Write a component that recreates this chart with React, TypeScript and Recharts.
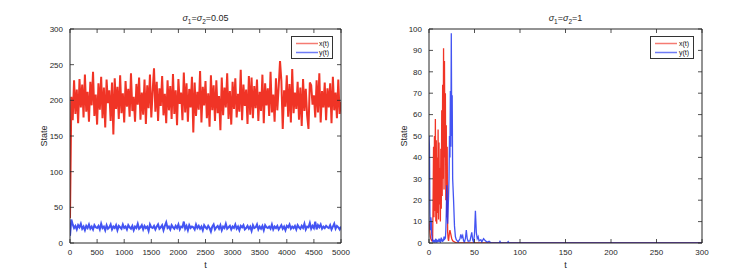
import React from "react";
import { LineChart, Line, XAxis, YAxis, Legend, ReferenceLine } from "recharts";

// ---------- Left panel: sigma1 = sigma2 = 0.05, t from 0 to 5000, sampled every 25 ----------
const leftStep = 25;
const xLeft: number[] = [35,
  205,172,228,181,215,168,230,190,222,176,
  236,184,212,170,226,193,240,178,208,166,
  224,187,233,175,218,162,229,196,214,171,
  225,152,231,188,219,174,235,182,210,169,
  227,191,216,177,238,185,205,170,223,194,
  232,173,211,180,229,167,221,189,236,176,
  213,245,184,226,171,217,192,234,179,209,
  168,228,186,220,174,237,181,214,165,230,
  195,211,172,239,183,224,170,216,190,233,
  155,225,178,212,187,241,169,219,193,227,
  175,210,163,235,186,221,171,228,182,206,
  158,232,179,218,190,238,174,213,166,226,
  188,231,176,209,184,243,172,222,192,215,
  167,234,180,232,175,220,189,229,171,212,
  185,236,168,224,193,217,178,240,183,208,
  170,231,186,219,255,227,160,214,191,235,
  177,223,169,244,182,211,188,226,173,218,
  164,230,185,216,179,160,225,221,194,207,
  176,228,183,238,169,213,190,225,172,217,
  190,224,168,233,186,211,175,229,181,198];
const yLeft: number[] = [10,
  33,26,21,24,19,25,22,27,20,23,
  18,24,21,26,20,23,19,25,22,21,
  24,19,27,21,23,18,25,20,22,26,
  19,23,21,25,18,24,22,20,26,21,
  23,19,25,22,20,24,18,23,21,27,
  20,22,25,19,24,21,23,17,26,22,
  21,24,19,23,26,20,22,25,18,24,
  29,21,23,19,25,22,20,24,21,26,
  19,23,22,30,20,24,18,25,21,23,
  22,19,26,21,24,20,23,18,25,22,
  20,24,21,16,23,26,19,22,24,20,
  25,18,23,21,27,20,22,24,19,23,
  21,26,20,23,18,24,22,25,19,21,
  24,20,23,17,25,21,22,26,19,23,
  20,24,18,25,22,21,23,20,26,19,
  23,21,24,19,22,25,20,23,18,24,
  22,26,20,23,21,24,19,25,22,20,
  24,21,27,19,23,22,28,20,24,21,
  30,19,25,22,26,20,23,21,24,22,
  21,25,19,23,27,20,24,22,19,23];
const leftXTicks = [0,500,1000,1500,2000,2500,3000,3500,4000,4500,5000];
const leftYTicks = [0,50,100,150,200,250,300];

// ---------- Right panel: sigma1 = sigma2 = 1, t from 0 to 300 ----------
const tRight: number[] = [0,0.5,1,1.5,2,2.5,3,3.5,4,4.5,5,5.5,6,6.5,7,7.5,8,8.5,9,9.5,10,10.5,11,11.5,12,12.5,13,13.5,14,14.5,15,15.5,16,16.5,17,17.5,18,18.5,19,19.5,20,20.5,21,21.5,22,22.5,23,23.5,24,24.5,25,25.5,26,
  27,28,29,30,32,34,35,36,37,38,39,40,41,42,43,45,46,47,48,49,50,51,52,53,54,55,57,58,60,62,64,66,68,72,77,78,79,86,87,88,300];
const xRight: number[] = [10,8,5,3,2,1.5,1,1,2,
  20,45,12,50,15,58,10,48,9,40,14,53,11,47,18,35,10,44,16,62,22,74,30,91,25,85,40,70,20,55,12,45,5,2,1,
  3,5,6,5,4,3,2,1.5,1,
  0.8,0.5,0.3,0.2,0.1,0,0,0,0,0,0,0,0,0,0,0,0,0,0,0,0,0,0,0,0,0,0,0,0,0,0,0,0,0,0,0,0,0,0,0,0];
const yRight: number[] = [50,45,14,6,12,10,4,2,1,
  0.5,1,0.3,1.5,0.5,1,2,0.5,1,0.3,1.5,0.8,1,2,0.5,1.2,0.4,1,2.5,0.8,1.5,0.5,2,1,3,1.5,3,2,6,14,27,16,9,15,22,
  30,50,40,71,45,98,50,69,30,
  20,8,3,1.5,0.5,2,4,2.5,3.5,1,0.5,2,6,2,0.8,1,3,5,1.5,0.5,4,15,5,2,3,1,1.5,0.5,2,1,0.3,0.8,0.1,0,0,0.8,0,0,0.6,0,0];
const rightXTicks = [0,50,100,150,200,250,300];
const rightYTicks = [0,10,20,30,40,50,60,70,80,90,100];

const leftData = xLeft.map((v, i) => ({ t: i * leftStep, x: v, y: yLeft[i] }));
const rightData = tRight.map((t, i) => ({ t, x: xRight[i], y: yRight[i] }));

const RED = "#f03426";
const BLUE = "#2236f0";
const AXIS = "#262626";
const FONT = "'Liberation Sans', Arial, Helvetica, sans-serif";
const TICK_LEN = 4;
const GAP_X = 6;
const GAP_Y = 7;

const LegendBox = (props: any) => {
  const payload = props.payload || [];
  return (
    <div
      style={{
        border: "1px solid #333",
        background: "#fff",
        padding: "2px 3px 1px 3px",
        fontFamily: FONT,
        fontSize: 7,
        color: "#111",
        lineHeight: "9px",
      }}
    >
      {payload.map((p: any) => (
        <div key={p.value} style={{ display: "flex", alignItems: "center", whiteSpace: "nowrap" }}>
          <svg width={24} height={9} style={{ display: "block" }}>
            <line x1={1} y1={4.5} x2={23} y2={4.5} stroke={p.color} strokeOpacity={0.65} strokeWidth={1.5} />
          </svg>
          <span style={{ marginLeft: 1 }}>{p.value}</span>
        </div>
      ))}
    </div>
  );
};

// bottom tick: label plus inward tick marks at bottom and top of the box
const XTick = (props: any) => {
  const { x, y, payload, plotH } = props;
  const base = y - GAP_X;
  return (
    <g>
      <line x1={x} x2={x} y1={base} y2={base - TICK_LEN} stroke={AXIS} strokeWidth={0.8} />
      <line x1={x} x2={x} y1={base - plotH} y2={base - plotH + TICK_LEN} stroke={AXIS} strokeWidth={0.8} />
      <text x={x} y={y} dy="0.71em" textAnchor="middle" fontSize={8} fill={AXIS} fontFamily={FONT}>
        {payload.value}
      </text>
    </g>
  );
};

// left tick: label plus inward tick marks at left and right of the box
const YTick = (props: any) => {
  const { x, y, payload, plotW } = props;
  const base = x + GAP_Y;
  return (
    <g>
      <line x1={base} x2={base + TICK_LEN} y1={y} y2={y} stroke={AXIS} strokeWidth={0.8} />
      <line x1={base + plotW} x2={base + plotW - TICK_LEN} y1={y} y2={y} stroke={AXIS} strokeWidth={0.8} />
      <text x={x} y={y} dy="0.355em" textAnchor="end" fontSize={8} fill={AXIS} fontFamily={FONT}>
        {payload.value}
      </text>
    </g>
  );
};

const Title = ({ cx, val }: { cx: number; val: string }) => (
  <text x={cx} y={21} textAnchor="middle" fontFamily={FONT} fontSize={9} fill={AXIS}>
    <tspan fontStyle="italic">σ</tspan>
    <tspan fontSize={6.5} dy={2.5}>1</tspan>
    <tspan dy={-2.5}>=</tspan>
    <tspan fontStyle="italic">σ</tspan>
    <tspan fontSize={6.5} dy={2.5}>2</tspan>
    <tspan dy={-2.5}>={val}</tspan>
  </text>
);

type PanelProps = {
  data: any[];
  width: number;
  yAxisWidth: number;
  marginRight: number;
  xDomain: [number, number];
  yDomain: [number, number];
  xTicks: number[];
  yTicks: number[];
  labelOffset: number;
  legendLeft: number;
  legendWidth: number;
  strokeWidth: number;
};

const Panel = (p: PanelProps) => {
  const plotW = p.width - p.yAxisWidth - p.marginRight;
  const plotH = 275 - 29 - 32;
  return (
    <LineChart
      width={p.width}
      height={275}
      data={p.data}
      margin={{ top: 29, right: p.marginRight, bottom: 0, left: 0 }}
    >
      <XAxis
        dataKey="t"
        type="number"
        domain={p.xDomain}
        ticks={p.xTicks}
        interval={0}
        allowDataOverflow
        height={32}
        tickSize={0}
        tickMargin={GAP_X}
        tickLine={false}
        tick={<XTick plotH={plotH} />}
        axisLine={{ stroke: AXIS }}
        label={{ value: "t", position: "insideBottom", offset: 7, fontSize: 9, fill: AXIS, fontFamily: FONT }}
      />
      <YAxis
        type="number"
        domain={p.yDomain}
        ticks={p.yTicks}
        interval={0}
        allowDataOverflow
        width={p.yAxisWidth}
        tickSize={0}
        tickMargin={GAP_Y}
        tickLine={false}
        tick={<YTick plotW={plotW} />}
        axisLine={{ stroke: AXIS }}
        label={{
          value: "State",
          angle: -90,
          position: "insideLeft",
          offset: p.labelOffset,
          fontSize: 9,
          fill: AXIS,
          fontFamily: FONT,
          style: { textAnchor: "middle" },
        }}
      />
      <Line
        type="linear"
        dataKey="x"
        name="x(t)"
        stroke={RED}
        strokeWidth={p.strokeWidth}
        dot={false}
        activeDot={false}
        isAnimationActive={false}
      />
      <Line
        type="linear"
        dataKey="y"
        name="y(t)"
        stroke={BLUE}
        strokeOpacity={0.85}
        strokeWidth={p.strokeWidth}
        dot={false}
        activeDot={false}
        isAnimationActive={false}
      />
      <ReferenceLine y={p.yDomain[1]} stroke={AXIS} strokeWidth={1} />
      <ReferenceLine x={p.xDomain[1]} stroke={AXIS} strokeWidth={1} />
      <Legend
        layout="vertical"
        align="center"
        verticalAlign="middle"
        content={<LegendBox />}
        wrapperStyle={{ left: p.legendLeft, top: 36, width: p.legendWidth, right: "auto", bottom: "auto" }}
      />
    </LineChart>
  );
};

export default function App() {
  return (
    <div style={{ position: "absolute", left: 0, top: 0, width: 753, height: 275, background: "#fff" }}>
      <div style={{ position: "absolute", left: 0, top: 0 }}>
        <Panel
          data={leftData}
          width={380}
          yAxisWidth={70}
          marginRight={39}
          xDomain={[0, 5000]}
          yDomain={[0, 300]}
          xTicks={leftXTicks}
          yTicks={leftYTicks}
          labelOffset={44}
          legendLeft={291}
          legendWidth={42}
          strokeWidth={2}
        />
      </div>
      <div style={{ position: "absolute", left: 380, top: 0 }}>
        <Panel
          data={rightData}
          width={373}
          yAxisWidth={49}
          marginRight={51}
          xDomain={[0, 300]}
          yDomain={[0, 100]}
          xTicks={rightXTicks}
          yTicks={rightYTicks}
          labelOffset={24}
          legendLeft={270}
          legendWidth={44}
          strokeWidth={1.3}
        />
      </div>
      <svg width={753} height={30} style={{ position: "absolute", left: 0, top: 0, pointerEvents: "none" }}>
        <Title cx={205.5} val="0.05" />
        <Title cx={565.5} val="1" />
      </svg>
    </div>
  );
}
